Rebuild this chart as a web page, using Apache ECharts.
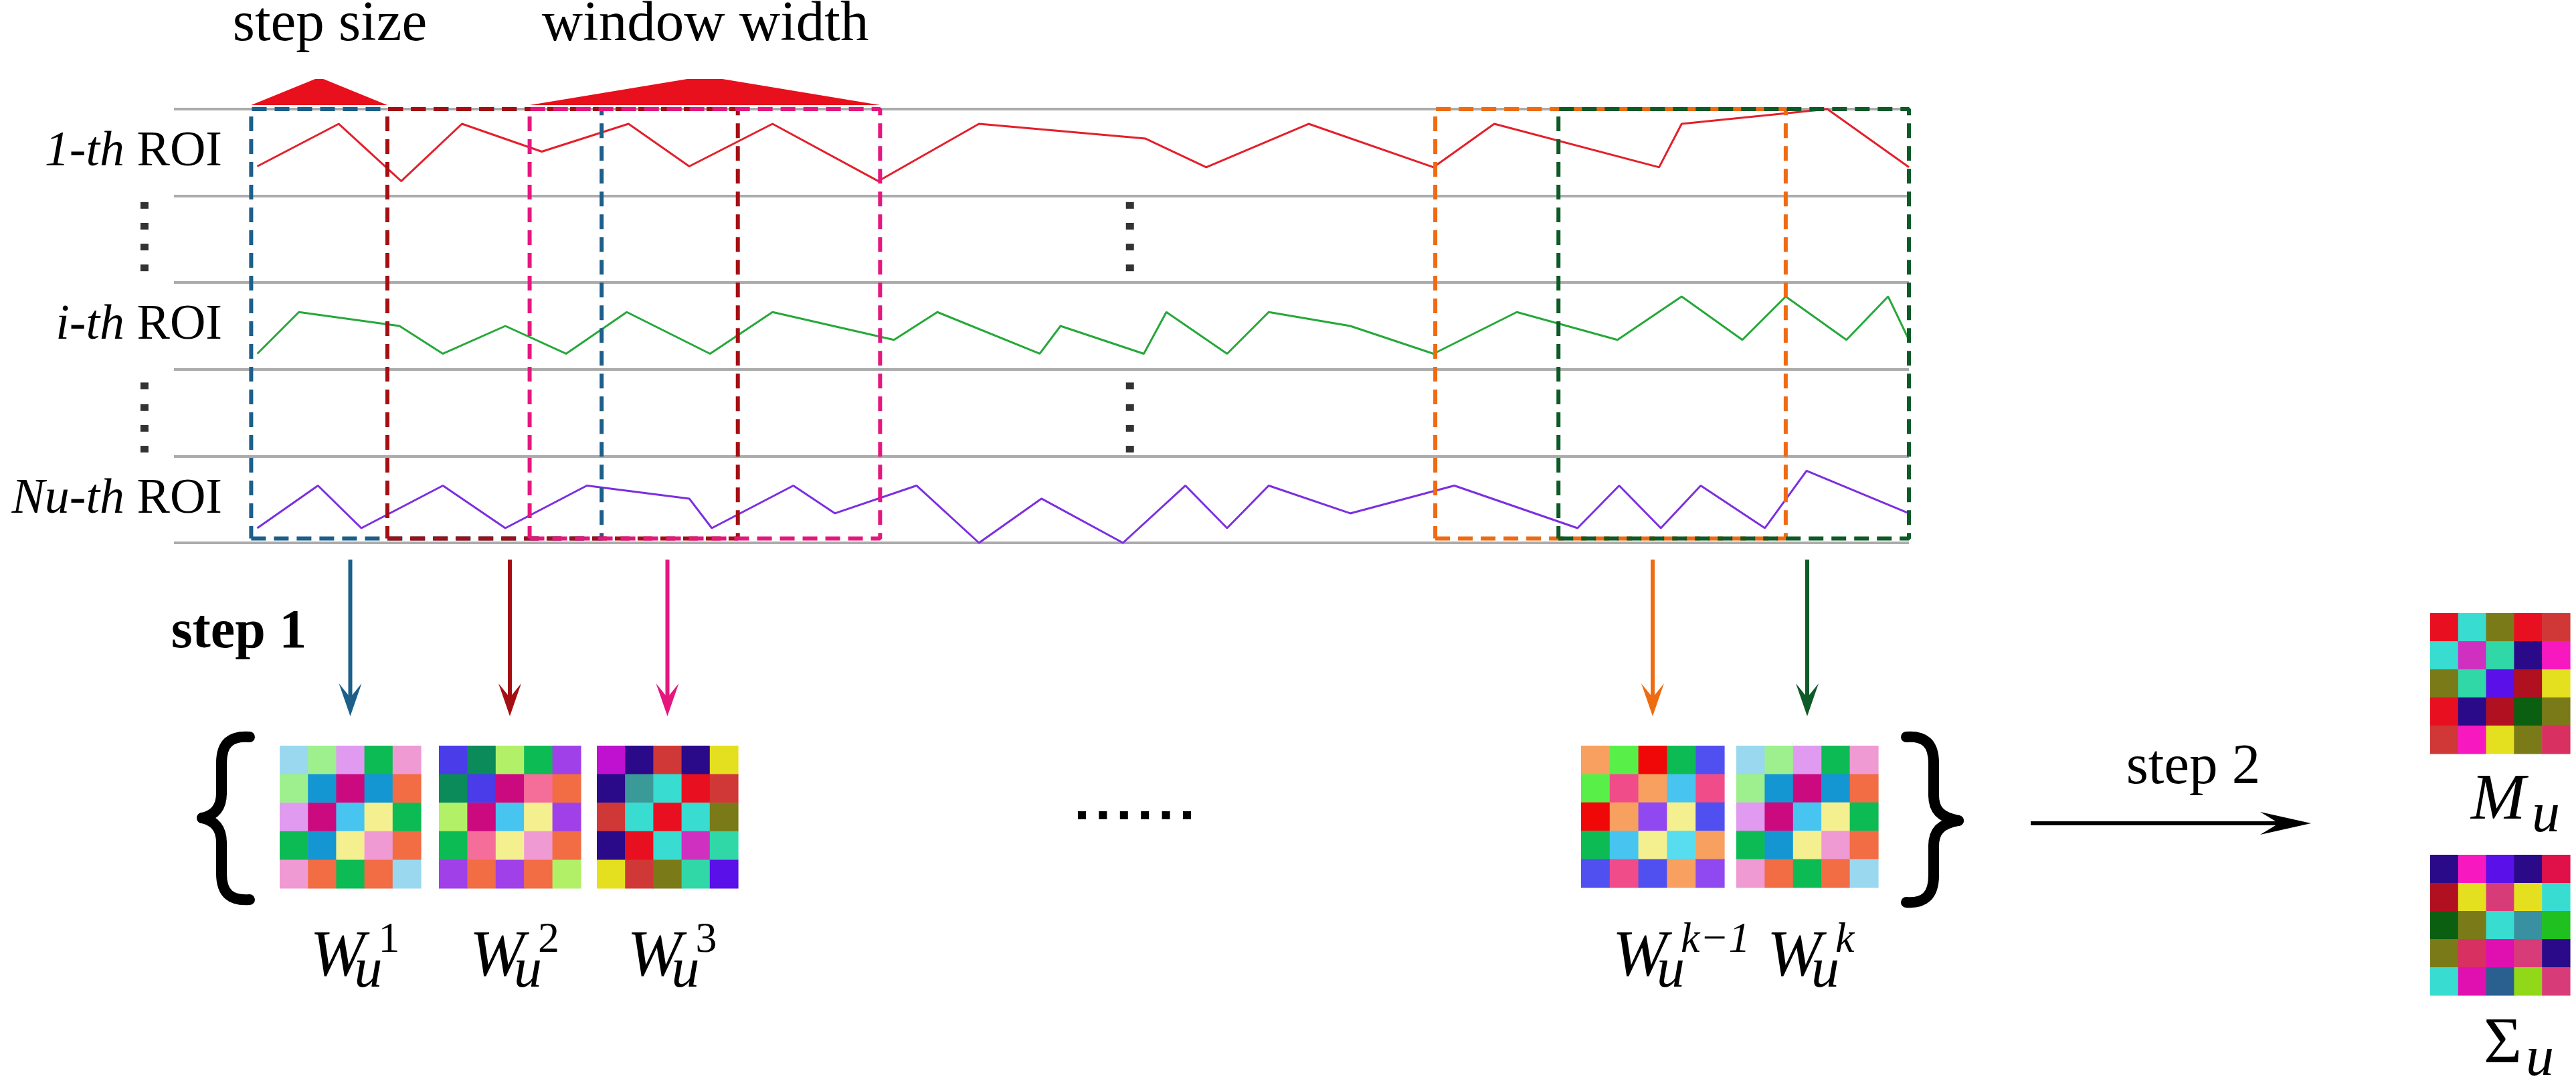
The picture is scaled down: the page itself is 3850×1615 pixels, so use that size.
<!DOCTYPE html>
<html>
<head>
<meta charset="utf-8">
<script src="https://cdn.jsdelivr.net/npm/echarts@6/dist/echarts.min.js"></script>
<style>
html, body { margin: 0; padding: 0; background: #fff; }
#chart { width: 3850px; height: 1615px; }
</style>
</head>
<body>
<div id="chart"></div>
<script>
// ROI signals: [time, level inside its row (0 = bottom line, 1 = top line)]
var roiLabels = ['Nu-th ROI', '', 'i-th ROI', '', '1-th ROI'];
var roiFirst = [[4.8,0.34],[9.5,0.83],[13.1,0.17],[16.6,0.83],[21.2,0.51],[26.2,0.83],[29.7,0.34],[34.5,0.83],[40.6,0.17],[46.4,0.83],[56.0,0.66],[59.5,0.33],[65.4,0.83],[72.6,0.33],[76.1,0.83],[85.6,0.33],[86.9,0.83],[95.3,1.0],[100,0.33]];
var roiMid = [[4.8,0.18],[7.2,0.66],[13.0,0.5],[15.5,0.18],[19.1,0.5],[22.6,0.18],[26.1,0.66],[30.9,0.18],[34.5,0.66],[41.5,0.34],[44.0,0.66],[49.9,0.18],[51.1,0.5],[55.9,0.18],[57.2,0.66],[60.7,0.18],[63.1,0.66],[67.8,0.5],[72.6,0.18],[77.4,0.66],[83.2,0.34],[86.9,0.84],[90.4,0.34],[92.9,0.84],[96.4,0.34],[98.8,0.84],[100,0.34]];
var roiLast = [[4.8,0.17],[8.3,0.66],[10.8,0.17],[15.5,0.66],[19.1,0.17],[23.8,0.66],[29.7,0.51],[31.0,0.17],[35.7,0.66],[38.1,0.34],[42.8,0.66],[46.4,0.0],[50.0,0.51],[54.7,0.0],[58.3,0.66],[60.7,0.17],[63.1,0.66],[67.8,0.34],[73.8,0.66],[80.9,0.17],[83.3,0.66],[85.7,0.17],[88.0,0.66],[91.7,0.17],[94.1,0.83],[100,0.34]];

// sliding windows (time units)
var windowStarts = [4.45, 12.3, 20.5, 72.7, 79.8];
var windowWidth = 20.2;

// "more rows" dots: time position and levels on the row axis
var gapDotTimes = [-1.7, 55.1];
var gapDotLevels = [3.89, 3.65, 3.41, 3.17, 1.81, 1.56, 1.32, 1.08];

// colour codes of the matrices (index into palette)
var palette = ['#9ad8f0','#9ef08e','#e09af0','#0dbb55','#f09ad4','#1496d2','#cc0a80','#f26c44','#48c4f0','#f4f090',
  '#4a3ce8','#0b8a5a','#b2f068','#a040e8','#f56e9a','#c010d0','#2a0a88','#d03838','#e81020','#3a9a98',
  '#38dcd0','#7a7a18','#d030c0','#30d8a8','#5a10e8','#e4e020','#f8a060','#58f048','#f00808','#5050f0',
  '#f04c8a','#9048f0','#58dcf0','#b01020','#0a6010','#d83060','#f818c0','#e01048','#d83c78','#3890a0',
  '#20c020','#e010b0','#2a6090','#90d818'];
var matW1 = [[0,1,2,3,4],[1,5,6,5,7],[2,6,8,9,3],[3,5,9,4,7],[4,7,3,7,0]];
var matW2 = [[10,11,12,3,13],[11,10,6,14,7],[12,6,8,9,13],[3,14,9,4,7],[13,7,13,7,12]];
var matW3 = [[15,16,17,16,25],[16,19,20,18,17],[17,20,18,20,21],[16,18,20,22,23],[25,17,21,23,24]];
var matWk1 = [[26,27,28,3,29],[27,30,26,8,30],[28,26,31,9,29],[3,8,9,32,26],[29,30,29,26,31]];
var matWk = matW1;
var matMean = [[18,20,21,18,17],[20,22,23,16,36],[21,23,24,33,25],[18,16,33,34,21],[17,36,25,21,35]];
var matSigma = [[16,36,24,16,37],[33,25,38,25,20],[34,21,20,39,40],[21,35,41,38,16],[20,41,42,43,38]];

var serif = "'Liberation Serif', 'Times New Roman', serif";
var windowColors = ['#1b5f8a', '#a50e12', '#e5177f', '#ef6b12', '#0e5a28'];

// matrix placement: left, top, width, height, arrow colour, label sup
var matrices = [
  { m: matW1, box: [418, 1114, 211, 213], arrow: windowColors[0], sup: '1' },
  { m: matW2, box: [656, 1114, 212, 213], arrow: windowColors[1], sup: '2' },
  { m: matW3, box: [892, 1114, 211, 213], arrow: windowColors[2], sup: '3' },
  { m: matWk1, box: [2363, 1114, 214, 212], arrow: windowColors[3], sup: 'k\u22121' },
  { m: matWk, box: [2595, 1114, 212, 212], arrow: windowColors[4], sup: 'k' },
  { m: matMean, box: [3632, 916, 209, 210] },
  { m: matSigma, box: [3632, 1277, 209, 210] }
];

var chart = echarts.init(document.getElementById('chart'));

var grids = [{ left: 260, top: 163, width: 2593, height: 648, outerBoundsMode: 'none' }];
var xAxes = [{ type: 'value', gridIndex: 0, min: 0, max: 100, show: false }];
var yAxes = [
  { type: 'value', gridIndex: 0, min: 0, max: 5, interval: 1,
    axisLine: { show: false }, axisTick: { show: false }, axisLabel: { show: false },
    splitLine: { show: true, showMinLine: true, showMaxLine: true, lineStyle: { color: '#ababab', width: 4 } } },
  { type: 'category', gridIndex: 0, data: roiLabels, position: 'left',
    axisLine: { show: false }, axisTick: { show: false }, splitLine: { show: false },
    axisLabel: {
      margin: -72, color: '#000',
      formatter: function (v) {
        if (!v) return '';
        var p = v.split(' ');
        return '{it|' + p[0] + '}{sp|\u00a0}{rm|' + p[1] + '}';
      },
      rich: {
        it: { fontFamily: serif, fontStyle: 'italic', fontSize: 74, color: '#000' },
        sp: { fontFamily: serif, fontSize: 74 },
        rm: { fontFamily: serif, fontSize: 74, color: '#000' }
      }
    } }
];

function shift(data, off) {
  return data.map(function (d) { return [d[0], d[1] + off]; });
}

var series = [
  { type: 'line', xAxisIndex: 0, yAxisIndex: 0, data: shift(roiFirst, 4), showSymbol: false, clip: false,
    lineStyle: { color: '#e3202b', width: 3 }, z: 2 },
  { type: 'line', xAxisIndex: 0, yAxisIndex: 0, data: shift(roiMid, 2), showSymbol: false, clip: false,
    lineStyle: { color: '#26a83a', width: 3 }, z: 2 },
  { type: 'line', xAxisIndex: 0, yAxisIndex: 0, data: shift(roiLast, 0), showSymbol: false, clip: false,
    lineStyle: { color: '#7b2fe0', width: 3 }, z: 2 }
];

// dashed window boxes
windowStarts.forEach(function (s, i) {
  var e = s + windowWidth;
  series.push({
    type: 'line', xAxisIndex: 0, yAxisIndex: 0, showSymbol: false, clip: false, z: 3,
    data: [[s, 0.05], [e, 0.05], [e, 5], [s, 5], [s, 0.05]],
    lineStyle: { color: windowColors[i], width: 6, type: [22, 12] }
  });
});

// step size / window width humps
series.push({
  type: 'custom', xAxisIndex: 0, yAxisIndex: 0, clip: false, z: 4,
  data: [[windowStarts[0], windowStarts[1], 0.03], [windowStarts[2], windowStarts[2] + windowWidth, 0.05]],
  renderItem: function (params, api) {
    var a = api.coord([api.value(0), 5]);
    var b = api.coord([api.value(1), 5]);
    var base = a[1] - 6, h = 39;
    var mid = (a[0] + b[0]) / 2, flat = (b[0] - a[0]) * api.value(2);
    return {
      type: 'polygon',
      shape: { points: [[a[0], base], [mid - flat, base - h], [mid + flat, base - h], [b[0], base]] },
      style: { fill: '#e8101c' }
    };
  }
});

// vertical "more rows" dots
var dots = [];
gapDotTimes.forEach(function (t) { gapDotLevels.forEach(function (l) { dots.push([t, l]); }); });
series.push({
  type: 'scatter', xAxisIndex: 0, yAxisIndex: 0, data: dots, clip: false, z: 4,
  symbol: 'rect', symbolSize: [12, 10], itemStyle: { color: '#000' }
});

// matrices: one small category grid each, cells drawn as rects
var idx5 = [0, 1, 2, 3, 4];
function renderCell(params, api) {
  var p = api.coord([api.value(0), api.value(1)]);
  var s = api.size([1, 1]);
  return {
    type: 'rect',
    shape: { x: p[0] - s[0] / 2, y: p[1] - s[1] / 2, width: s[0] + 0.6, height: s[1] + 0.6 },
    style: { fill: palette[api.value(2)] }
  };
}
matrices.forEach(function (mt, k) {
  var g = k + 1;
  grids.push({ left: mt.box[0], top: mt.box[1], width: mt.box[2], height: mt.box[3], outerBoundsMode: 'none' });
  xAxes.push({ type: 'category', gridIndex: g, data: idx5, show: false });
  yAxes.push({ type: 'category', gridIndex: g, data: idx5, show: false, inverse: true });
  var data = [];
  mt.m.forEach(function (row, r) { row.forEach(function (code, c) { data.push([c, r, code]); }); });
  series.push({ type: 'custom', xAxisIndex: g, yAxisIndex: g + 1, data: data, renderItem: renderCell });
});

// decorations
var graphic = [];
function txt(x, y, s, size, opt) {
  opt = opt || {};
  graphic.push({
    type: 'text', x: x, y: y, z: 10,
    style: {
      text: s, fill: '#000', fontFamily: serif, fontSize: size,
      fontStyle: opt.italic ? 'italic' : 'normal', fontWeight: opt.bold ? 'bold' : 'normal',
      textAlign: opt.align || 'left', textVerticalAlign: 'middle'
    }
  });
}
txt(493, 38, 'step size', 85, { align: 'center' });
txt(1054, 38, 'window width', 85, { align: 'center' });
txt(357, 946, 'step 1', 82, { align: 'center', bold: true });
txt(3278, 1148, 'step 2', 85, { align: 'center' });

function arrowDown(x, y0, y1, color) {
  graphic.push({ type: 'line', z: 10, shape: { x1: x, y1: y0, x2: x, y2: y1 - 26 }, style: { stroke: color, lineWidth: 6 } });
  graphic.push({ type: 'polygon', z: 10, shape: { points: [[x, y1], [x - 17, y1 - 49], [x, y1 - 28], [x + 17, y1 - 49]] }, style: { fill: color } });
}

matrices.forEach(function (mt) {
  if (!mt.arrow) return;
  var cx = mt.box[0] + mt.box[2] / 2;
  arrowDown(cx, 836, 1070, mt.arrow);
  var wx = cx - 60;
  txt(wx, 1431, 'W', 98, { italic: true });
  txt(wx + 66, 1452, 'u', 84, { italic: true });
  txt(wx + 102, 1405, mt.sup, 64, { italic: mt.sup !== '1' && mt.sup !== '2' && mt.sup !== '3' });
});

txt(3693, 1197, 'M', 98, { italic: true });
txt(3784, 1220, 'u', 84, { italic: true });
txt(3712, 1561, '\u03A3', 98);
txt(3775, 1584, 'u', 84, { italic: true });

// step 2 arrow
graphic.push({ type: 'line', z: 10, shape: { x1: 3035, y1: 1230, x2: 3415, y2: 1230 }, style: { stroke: '#000', lineWidth: 6 } });
graphic.push({ type: 'polygon', z: 10, shape: { points: [[3454, 1230], [3378, 1213], [3406, 1230], [3378, 1247]] }, style: { fill: '#000' } });

// braces built from curves and straight stems
function brace(segs) {
  segs.forEach(function (s) {
    var shape = s.length === 4
      ? { x1: s[0], y1: s[1], x2: s[2], y2: s[3] }
      : { x1: s[0], y1: s[1], cpx1: s[2], cpy1: s[3], cpx2: s[4], cpy2: s[5], x2: s[6], y2: s[7] };
    graphic.push({ type: s.length === 4 ? 'line' : 'bezierCurve', z: 10, shape: shape,
      style: { stroke: '#000', lineWidth: 16, fill: null, lineCap: 'round' } });
  });
}
brace([
  [373, 1101, 345, 1099, 331, 1110, 331, 1140],
  [331, 1140, 331, 1185],
  [331, 1185, 331, 1207, 320, 1218, 302, 1222],
  [302, 1222, 320, 1226, 331, 1237, 331, 1259],
  [331, 1259, 331, 1305],
  [331, 1305, 331, 1335, 345, 1346, 373, 1344]
]);
brace([
  [2849, 1101, 2876, 1099, 2890, 1110, 2890, 1140],
  [2890, 1140, 2890, 1188],
  [2890, 1188, 2890, 1210, 2900, 1221, 2927, 1226],
  [2927, 1226, 2900, 1231, 2890, 1242, 2890, 1264],
  [2890, 1264, 2890, 1308],
  [2890, 1308, 2890, 1338, 2876, 1350, 2849, 1348]
]);

// ellipsis between the window groups
for (var i = 0; i < 6; i++) {
  graphic.push({ type: 'rect', z: 10, shape: { x: 1611 + i * 31.4, y: 1212, width: 12, height: 12 }, style: { fill: '#000' } });
}

var option = {
  backgroundColor: '#fff',
  animation: false,
  grid: grids,
  xAxis: xAxes,
  yAxis: yAxes,
  series: series,
  graphic: graphic
};
chart.setOption(option);
</script>
</body>
</html>
